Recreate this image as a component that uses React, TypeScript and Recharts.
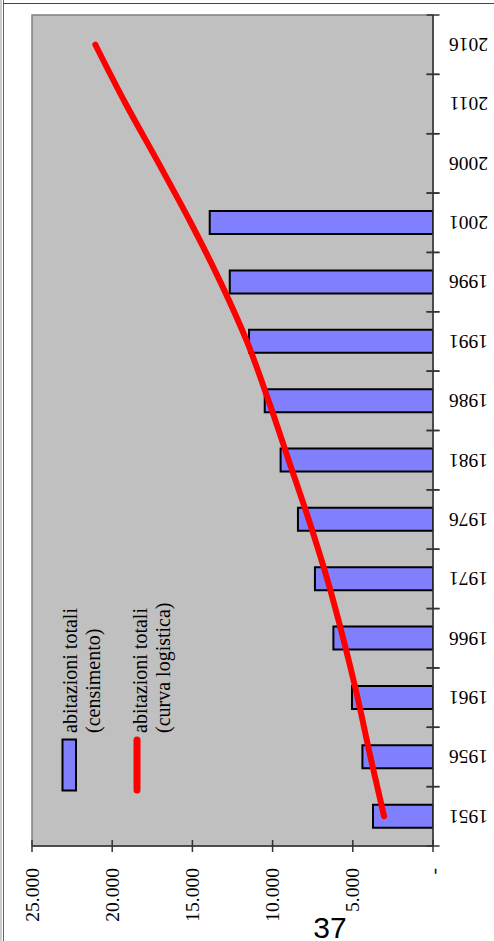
import React from 'react';
import { ComposedChart, Bar, Line, XAxis, YAxis, CartesianGrid, ReferenceArea, Legend } from 'recharts';

const years = ['1951', '1956', '1961', '1966', '1971', '1976', '1981', '1986', '1991', '1996', '2001', '2006', '2011', '2016'];
const censimento = [3740, 4400, 5050, 6210, 7360, 8420, 9500, 10490, 11470, 12670, 13920, null, null, null];
const logistica = [3050, 3900, 4700, 5600, 6600, 7750, 9000, 10250, 11600, 13250, 15100, 17100, 19150, 21050];
const valueTicks = [0, 5000, 10000, 15000, 20000, 25000];
const seriesNames = ['abitazioni totali (censimento)', 'abitazioni totali (curva logistica)'];

const data = years.map((year, i) => ({ year, censimento: censimento[i], logistica: logistica[i] }));

const W = 494;
const H = 941;
const MARGIN = { top: 15, right: 0, bottom: 0, left: 32 };
const X_AXIS_H = 95;
const Y_AXIS_W = 61;
const PLOT_H = H - MARGIN.top - MARGIN.bottom - X_AXIS_H;
const HALF_BAND = PLOT_H / years.length / 2;
const SERIF = "'Liberation Serif', 'Times New Roman', serif";

// 0 is shown as "-", thousands with a dot
const fmt = (v: number) => (v === 0 ? '-' : String(v).replace(/\B(?=(\d{3})+(?!\d))/g, '.'));

const ValueTick = (props: any) => {
  const { x, y, payload } = props;
  const ty = y + 22;
  return (
    <g>
      <line x1={x} y1={y - 6} x2={x} y2={y + 6} stroke="#333" strokeWidth={1.5} />
      <text x={x} y={ty} transform={`rotate(-90, ${x}, ${ty})`} textAnchor="end" dy="0.34em"
        fontSize={19.5} fontFamily={SERIF} fill="#000">
        {fmt(payload.value)}
      </text>
    </g>
  );
};

const YearTick = (props: any) => {
  const { x, y, payload } = props;
  const tx = x + 55;
  return (
    <g>
      <line x1={x - 6.5} y1={y + HALF_BAND} x2={x + 6.5} y2={y + HALF_BAND} stroke="#333" strokeWidth={1.5} />
      <line x1={x - 6.5} y1={y - HALF_BAND} x2={x + 6.5} y2={y - HALF_BAND} stroke="#333" strokeWidth={1.5} />
      <text x={tx} y={y} transform={`rotate(180, ${tx}, ${y})`} textAnchor="start" dy="0.34em"
        fontSize={19.5} fontFamily={SERIF} fill="#000">
        {payload.value}
      </text>
    </g>
  );
};

const LegendContent = (props: any) => {
  const payload = props.payload || [];
  return (
    <svg width={140} height={220}>
      {payload.map((entry: any, i: number) => {
        const name: string = String(entry.value);
        const cut = name.indexOf(' (');
        const l1 = cut > 0 ? name.slice(0, cut) : name;
        const l2 = cut > 0 ? name.slice(cut + 1) : '';
        const bx = 27 + i * 70;
        return (
          <g key={name}>
            {entry.type === 'line' ? (
              <line x1={87} y1={150} x2={87} y2={200} stroke={entry.color} strokeWidth={7} strokeLinecap="round" />
            ) : (
              <rect x={12.5} y={149.5} width={13.5} height={51} fill={entry.color} stroke="#000" strokeWidth={2} />
            )}
            <text x={bx} y={143} transform={`rotate(-90, ${bx}, 143)`} fontSize={20} fontFamily={SERIF} fill="#000">
              {l1}
            </text>
            <text x={bx + 23} y={143} transform={`rotate(-90, ${bx + 23}, 143)`} fontSize={20} fontFamily={SERIF} fill="#000">
              {l2}
            </text>
          </g>
        );
      })}
    </svg>
  );
};

export default function App() {
  return (
    <div style={{ position: 'absolute', left: 0, top: 0, width: W, height: H, background: '#fff', overflow: 'hidden' }}>
      <ComposedChart width={W} height={H} data={data} layout="vertical" margin={MARGIN}>
        <CartesianGrid horizontal={false} vertical={false} fill="#C0C0C0" fillOpacity={1} />
        <ReferenceArea x1={0} x2={25000} fill="none" stroke="#808080" strokeWidth={1.5} ifOverflow="visible" />
        <XAxis
          type="number"
          domain={[0, 25000]}
          ticks={valueTicks}
          reversed
          interval={0}
          height={X_AXIS_H}
          tickSize={0}
          tickMargin={0}
          tickLine={false}
          tick={ValueTick}
          axisLine={{ stroke: '#333', strokeWidth: 1.5 }}
          allowDataOverflow
        />
        <YAxis
          type="category"
          dataKey="year"
          orientation="right"
          reversed
          width={Y_AXIS_W}
          interval={0}
          tickSize={0}
          tickMargin={0}
          tickLine={false}
          tick={YearTick}
          axisLine={{ stroke: '#333', strokeWidth: 1.5 }}
        />
        <Bar dataKey="censimento" name={seriesNames[0]} fill="#8080FF" stroke="#000" strokeWidth={2}
          barSize={23} isAnimationActive={false} />
        <Line dataKey="logistica" name={seriesNames[1]} type="monotone" stroke="#FF0000" strokeWidth={6}
          strokeLinecap="round" dot={false} activeDot={false} isAnimationActive={false} />
        <Legend layout="vertical" align="center" verticalAlign="middle" content={LegendContent}
          wrapperStyle={{ left: 50, top: 590, width: 140, height: 220 }} />
      </ComposedChart>
      <svg width={W} height={H} style={{ position: 'absolute', left: 0, top: 0, pointerEvents: 'none' }}>
        <line x1={1} y1={0} x2={1} y2={H} stroke="#999" strokeWidth={1} />
        <line x1={3.5} y1={0} x2={3.5} y2={H} stroke="#666" strokeWidth={1} />
        <line x1={3} y1={3.5} x2={W} y2={3.5} stroke="#444" strokeWidth={1} />
        <text x={330} y={938} textAnchor="middle" fontSize={30} fontFamily="'Liberation Sans', Arial, sans-serif" fill="#000">
          37
        </text>
      </svg>
    </div>
  );
}
